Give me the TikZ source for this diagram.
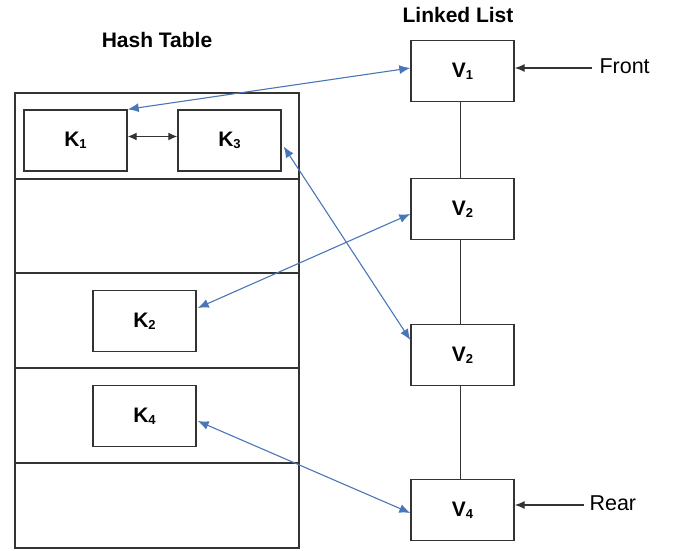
\documentclass[tikz,border=0pt]{standalone}
\usepackage{fontspec}
\setmainfont{Liberation Sans}
\usetikzlibrary{arrows.meta,calc}
\definecolor{linkblue}{HTML}{4A76B8}
\definecolor{boxgray}{HTML}{333333}

% small lowered index after a cell letter
\newcommand{\idx}[1]{\raisebox{-0.1em}{\fontsize{13}{13}\selectfont #1}}

\tikzset{
  cell/.style={draw=boxgray, line width=1.4pt, minimum width=103pt, minimum height=61pt,
               inner sep=0pt, font=\fontsize{21}{24}\selectfont\bfseries},
  title/.style={font=\fontsize{21}{24}\selectfont\bfseries},
  plain/.style={font=\fontsize{21.5}{24}\selectfont},
  link/.style={draw=linkblue, line width=1.1pt, {Latex[length=11pt,width=9pt]}-{Latex[length=11pt,width=9pt]}},
  pointer/.style={draw=boxgray, line width=1.3pt, -{Latex[length=10pt,width=8pt]}},
  chain/.style={draw=boxgray, line width=1.4pt}
}

\begin{document}
\begin{tikzpicture}[x=1pt,y=-1pt]
\useasboundingbox (0,0) rectangle (678,551);

% titles
\node[title] (ht) at (157,40) {Hash Table};
\node[title] (ll) at (458,15) {Linked List};

% hash table frame and rows
\draw[boxgray, line width=1.4pt] (15,93) rectangle (299,548);
\foreach \yy in {179,273,368,463}
  \draw[boxgray, line width=1.4pt] (15,\yy) -- (299,\yy);

% keys
\node[cell] (k1) at (75.5,140.5) {K\idx{1}};
\node[cell] (k3) at (229.5,140.5) {K\idx{3}};
\node[cell] (k2) at (144.5,321) {K\idx{2}};
\node[cell] (k4) at (144.5,416) {K\idx{4}};

% values in the linked list
\node[cell] (v1) at (462.5,71) {V\idx{1}};
\node[cell] (v2a) at (462.5,209) {V\idx{2}};
\node[cell] (v2b) at (462.5,355) {V\idx{2}};
\node[cell] (v4) at (462.5,510) {V\idx{4}};

% list chain
\draw[chain] ($(v1.south)+(-2,0)$) -- ($(v2a.north)+(-2,0)$);
\draw[chain] ($(v2a.south)+(-2,0)$) -- ($(v2b.north)+(-2,0)$);
\draw[chain] ($(v2b.south)+(-2,0)$) -- ($(v4.north)+(-2,0)$);

% front and rear pointers
\coordinate (fr) at (592,68);
\coordinate (rr) at (584,505);
\node[plain, anchor=west] (front) at (596,66) {Front};
\node[plain, anchor=west] (rear) at (586,503) {Rear};
\draw[pointer] (fr) -- (fr -| v1.east);
\draw[pointer] (rr) -- (rr -| v4.east);

% collision chain inside the bucket
\draw[boxgray, line width=1.3pt, {Latex[length=9pt,width=8pt]}-{Latex[length=9pt,width=8pt]}]
  ($(k1.east)+(0,-4)$) -- ($(k3.west)+(0,-4)$);

% key <-> node links
\draw[link] (k1.north east) -- ($(v1.west)+(0,-3)$);
\draw[link] ($(k3.east)+(2,6)$) -- ($(v2b.west)+(0,-15)$);
\draw[link] ($(k2.east)+(1,-13)$) -- ($(v2a.west)+(0,5)$);
\draw[link] ($(k4.east)+(1,5)$) -- ($(v4.west)+(0,3)$);
\end{tikzpicture}
\end{document}
